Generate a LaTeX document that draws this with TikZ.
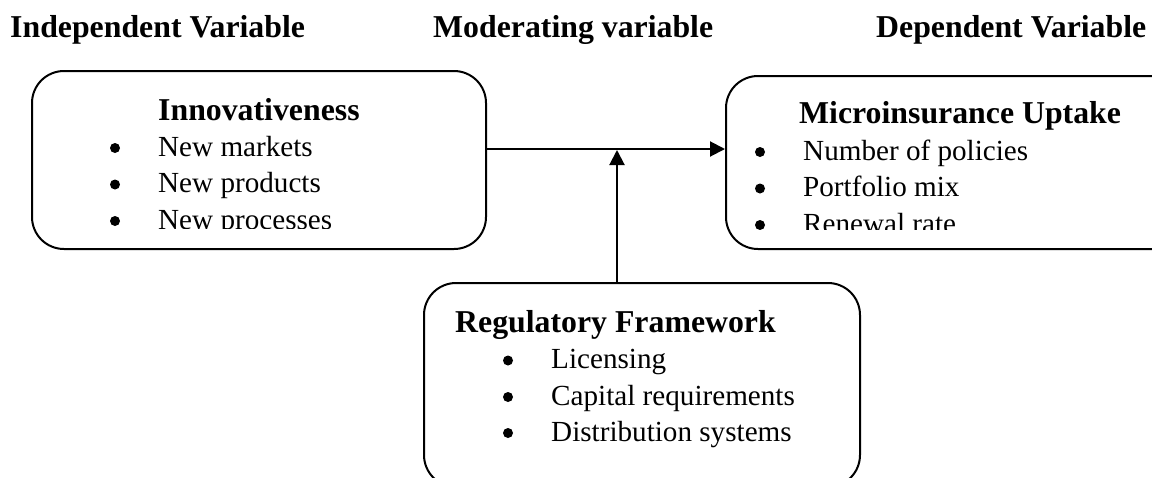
\documentclass[tikz,border=0pt]{standalone}
\usepackage{fontspec}
\setmainfont{Liberation Serif}
\usetikzlibrary{arrows.meta}

\begin{document}
\begin{tikzpicture}[x=1pt, y=-1pt,
  box/.style={draw, line width=2pt, rounded corners=32pt, inner sep=0pt},
  head/.style={font=\fontsize{31.8}{38}\selectfont\bfseries, anchor=base west, inner sep=0pt},
  item/.style={font=\fontsize{29.15}{35}\selectfont, anchor=base west, inner sep=0pt},
  dot/.style={circle, fill, inner sep=0pt, minimum size=10pt},
  link/.style={line width=2pt, -{Triangle[length=15pt,width=15pt]}}]

\useasboundingbox (0,0) rectangle (1152,477);
\clip (0,0) rectangle (1152,477);

% column headings
\node[head] (hind) at (10,37.7) {Independent Variable};
\node[head] (hmod) at (433,37.7) {Moderating variable};
\node[head] (hdep) at (876,37.7) {Dependent Variable};

% the three boxes
\node[box, minimum width=454pt, minimum height=178pt] (inn) at (259,160) {};
\node[box, minimum width=460pt, minimum height=173pt] (upt) at (956,162.5) {};
\node[box, minimum width=436pt, minimum height=204pt] (reg) at (642,385) {};

% independent variable
\begin{scope}
  \clip (32,71) rectangle (486,228.5);
  \node[head] (innt) at (158,120) {Innovativeness};
  \node[dot] (ib1) at (115,148) {};
  \node[item] (ii1) at (158,156) {New markets};
  \node[dot] (ib2) at (115,184.5) {};
  \node[item] (ii2) at (158,192.5) {New products};
  \node[dot] (ib3) at (115,221) {};
  \node[item] (ii3) at (158,229) {New processes};
\end{scope}

% dependent variable
\begin{scope}
  \clip (726,76) rectangle (1152,229.5);
  \node[head] (uptt) at (799,123) {Microinsurance Uptake};
  \node[dot] (ub1) at (760,152) {};
  \node[item] (ui1) at (803,160) {Number of policies};
  \node[dot] (ub2) at (760,188.5) {};
  \node[item] (ui2) at (803,196.5) {Portfolio mix};
  \node[dot] (ub3) at (760,225) {};
  \node[item] (ui3) at (803,233) {Renewal rate};
\end{scope}

% moderating variable
\node[head] (regt) at (455,332) {Regulatory Framework};
\node[dot] (rb1) at (508,360.5) {};
\node[item] (ri1) at (551,368.5) {Licensing};
\node[dot] (rb2) at (508,397) {};
\node[item] (ri2) at (551,405) {Capital requirements};
\node[dot] (rb3) at (508,433) {};
\node[item] (ri3) at (551,441) {Distribution systems};

% connectors
\coordinate (junction) at (617,149);
\draw[link] (inn.east |- junction) -- (upt.west |- junction);
\draw[link, shorten >=1pt] (reg.north -| junction) -- (junction);
\end{tikzpicture}
\end{document}
